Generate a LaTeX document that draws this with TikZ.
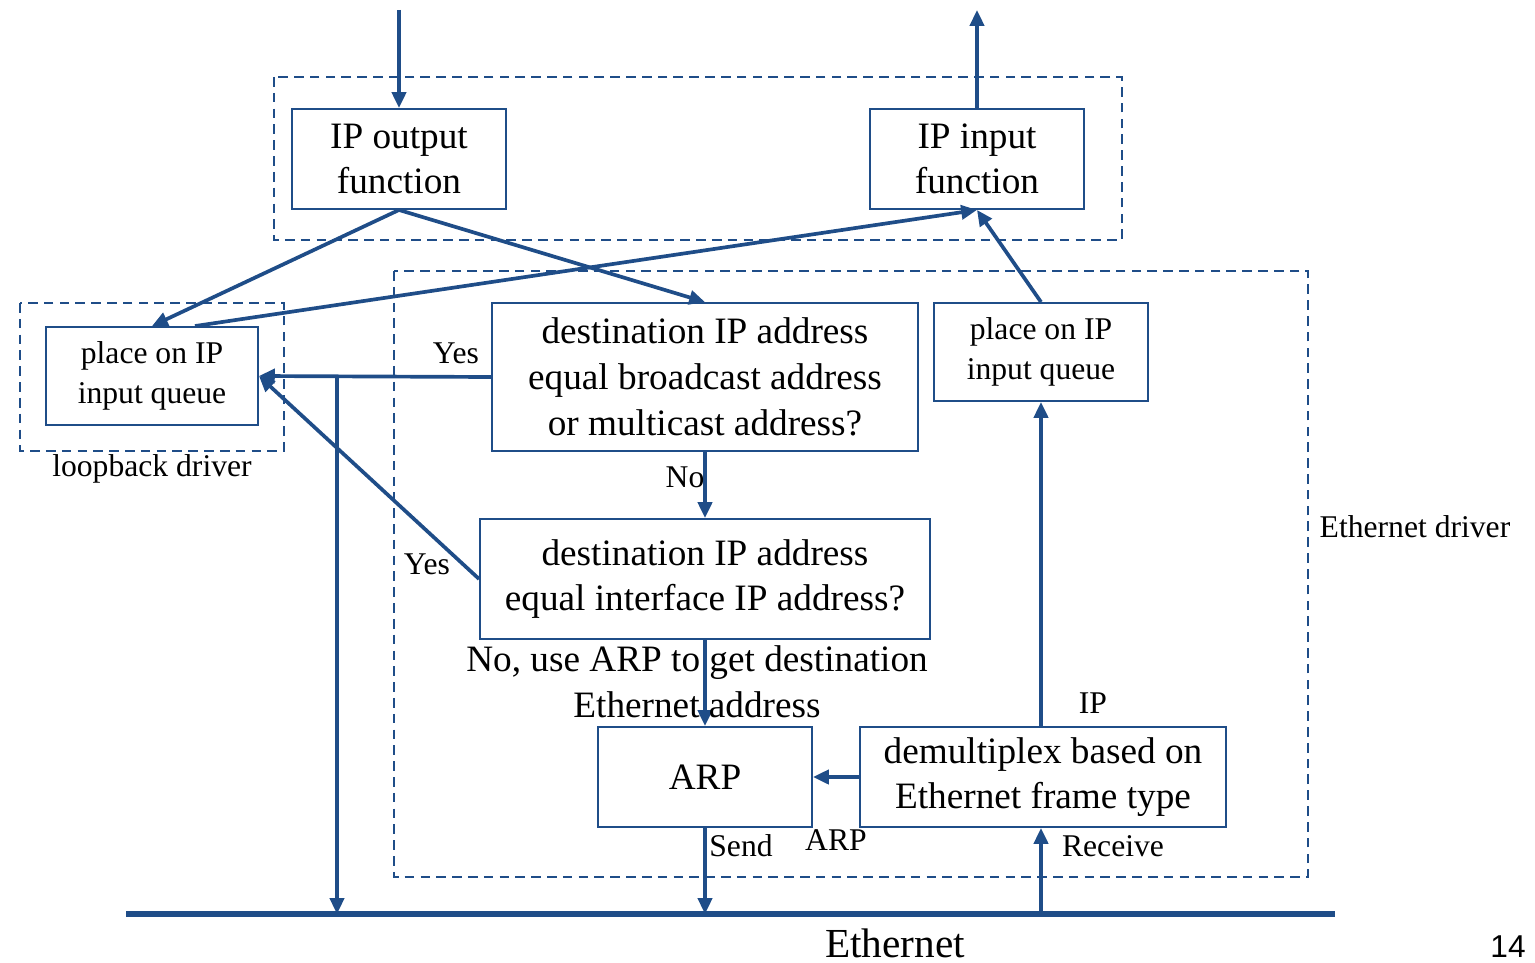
\documentclass[tikz,border=0pt]{standalone}
\usepackage{fontspec}
\setmainfont{Liberation Serif}
\newfontfamily\numfont{Liberation Sans}
\usetikzlibrary{arrows.meta,calc}
\definecolor{navy}{RGB}{31,77,136}
\tikzset{
  bigtxt/.style={font=\fontsize{21.2}{26}\selectfont, align=center},
  smalltxt/.style={font=\fontsize{18}{22.8}\selectfont, align=center},
  proc/.style={draw=navy, line width=1.1pt, inner sep=0pt, fill=white},
  region/.style={draw=navy, line width=1pt, dash pattern=on 5.5pt off 3.5pt},
  flow/.style={draw=navy, line width=2.1pt, -{Triangle[length=9pt,width=8pt]}},
  wire/.style={draw=navy, line width=3.4pt},
  lbl/.style={smalltxt, inner sep=0pt}
}
\begin{document}
\begin{tikzpicture}[x=0.02cm, y=-0.02cm]
\useasboundingbox (0,0) rectangle (1535,963);

% dashed driver regions
\draw[region] (274,77) rectangle (1122,240);
\draw[region] (20,303) rectangle (284,451);
\draw[region] (394,271) rectangle (1308,877);

% processing boxes
\node[proc, bigtxt, minimum width=4.28cm, minimum height=2cm] (ipout) at (399,159) {IP output\\function};
\node[proc, bigtxt, minimum width=4.28cm, minimum height=2cm] (ipin) at (977,159) {IP input\\function};
\node[proc, smalltxt, minimum width=4.24cm, minimum height=1.96cm] (lbq) at (152,376) {place on IP\\input queue};
\node[proc, bigtxt, minimum width=8.52cm, minimum height=2.96cm] (bcast) at (705,377) {destination IP address\\equal broadcast address\\or multicast address?};
\node[proc, smalltxt, minimum width=4.28cm, minimum height=1.96cm] (rq) at (1041,352) {place on IP\\input queue};
\node[proc, bigtxt, minimum width=9cm, minimum height=2.4cm] (iface) at (705,579) {destination IP address\\equal interface IP address?};
\node[proc, bigtxt, minimum width=4.28cm, minimum height=2cm] (arp) at (705,777) {ARP};
\node[proc, bigtxt, minimum width=7.32cm, minimum height=2cm] (demux) at (1043,777) {demultiplex based on\\Ethernet frame type};

% free ends
\coordinate (upIn) at (399,10);
\coordinate (upOut) at (977,10);
\coordinate (ethL) at (126,914);
\coordinate (ethR) at (1335,914);
\coordinate (tap) at (337,376);

% Ethernet cable
\draw[wire] (ethL) -- (ethR);

% connectors
\draw[flow] (upIn) -- (ipout.north);
\draw[flow] (ipin.north) -- (upOut);
\draw[flow] (ipout.south) -- (lbq.north);
\draw[flow] (ipout.south) -- (bcast.north);
\draw[flow] ([xshift=0.86cm]lbq.north) -- (ipin.south);
\draw[flow] (rq.north) -- (ipin.south);
\draw[flow] (bcast.west) -- (lbq.east);
\draw[flow] (tap) -- (tap |- ethL);
\draw[flow] (iface.west) -- (lbq.east);
\draw[flow] (bcast.south) -- (iface.north);
\draw[flow] (iface.south) -- (arp.north);
\draw[flow] (demux.west |- arp.east) -- (arp.east);
\draw[flow] (arp.south) -- (arp.south |- ethL);
\draw[flow] (rq.south |- ethL) -- (rq.south |- demux.south);
\draw[flow] (rq.south |- demux.north) -- (rq.south);

% labels
\node[lbl] (yes1) at (456,353) {Yes};
\node[lbl] (yes2) at (427,564) {Yes};
\node[lbl] (no1) at (685,477) {No};
\node[bigtxt, inner sep=0pt] (no2) at (697,682) {No, use ARP to get destination\\Ethernet address};
\node[lbl] (ipl) at (1093,703) {IP};
\node[lbl] (arpl) at (836,840) {ARP};
\node[lbl] (send) at (741,846) {Send};
\node[lbl] (recv) at (1113,846) {Receive};
\node[lbl] (lbd) at (152,469) {loopback driver};
\node[lbl] (ethd) at (1415,527) {Ethernet driver};
\node[font=\fontsize{23.5}{28}\selectfont, inner sep=0pt] (ethname) at (895,943) {Ethernet};
\node[font=\numfont\fontsize{18}{20}\selectfont, inner sep=0pt] (pg) at (1508,947) {14};
\end{tikzpicture}
\end{document}
